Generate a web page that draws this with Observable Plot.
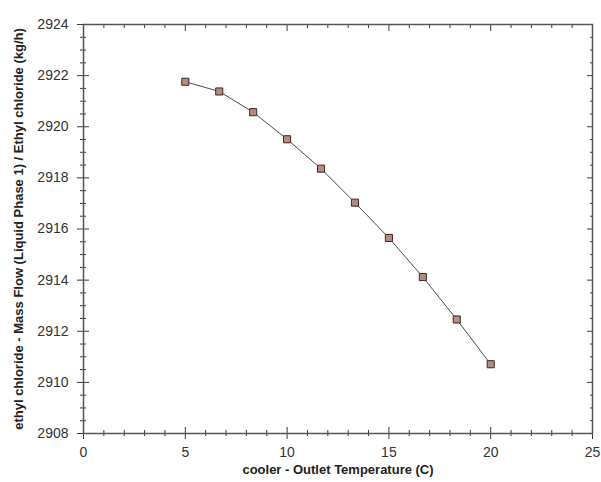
<!DOCTYPE html>
<html>
<head>
<meta charset="utf-8">
<script src="https://cdn.jsdelivr.net/npm/d3@7"></script>
<script src="https://cdn.jsdelivr.net/npm/@observablehq/plot@0.6"></script>
<style>
  html, body { margin: 0; padding: 0; background: #fff; }
  #chart svg { display: block; }
</style>
</head>
<body>
<div id="chart"></div>
<script>
const temperatures = [5, 6.667, 8.333, 10, 11.667, 13.333, 15, 16.667, 18.333, 20];
const massFlow = [2921.76, 2921.38, 2920.57, 2919.51, 2918.36, 2917.03, 2915.65, 2914.12, 2912.46, 2910.71];
const xMajorTicks = [0, 5, 10, 15, 20, 25];
const xMinorTicks = d3.range(0, 25, 1).filter(v => v % 5 !== 0);
const yMajorTicks = [2908, 2910, 2912, 2914, 2916, 2918, 2920, 2922, 2924];
const yMinorTicks = d3.range(2908, 2924, 0.5).filter(v => v % 2 !== 0);
const xLabel = "cooler - Outlet Temperature (C)";
const yLabel = "ethyl chloride - Mass Flow (Liquid Phase 1) / Ethyl chloride (kg/h)";

const data = temperatures.map((t, i) => ({t, m: massFlow[i]}));
const axisColor = "#3a3a3a";

const chart = Plot.plot({
  width: 601,
  height: 482,
  marginLeft: 83,
  marginRight: 9,
  marginTop: 24,
  marginBottom: 49,
  style: {fontFamily: "'Liberation Sans', Arial, sans-serif", fontSize: "14px", color: "#333", background: "#fff"},
  x: {domain: [0, 25]},
  y: {domain: [2908, 2924]},
  marks: [
    // bottom axis: major crossing ticks + labels
    Plot.axisX({anchor: "bottom", ticks: xMajorTicks, tickSize: 6, tickPadding: 8, fontSize: 14, stroke: axisColor, fill: "#333", label: xLabel, labelAnchor: "center", labelArrow: "none", labelOffset: 40}),
    Plot.axisX({anchor: "bottom", ticks: xMajorTicks, tickSize: 6, dy: -6, text: null, label: null, stroke: axisColor}),
    Plot.axisX({anchor: "bottom", ticks: xMinorTicks, tickSize: 3, text: null, label: null, stroke: axisColor}),
    Plot.axisX({anchor: "bottom", ticks: xMinorTicks, tickSize: 3, dy: -3, text: null, label: null, stroke: axisColor}),
    // top axis: inward ticks
    Plot.axisX({anchor: "top", ticks: xMajorTicks, tickSize: 6, dy: 6, text: null, label: null, stroke: axisColor}),
    Plot.axisX({anchor: "top", ticks: xMinorTicks, tickSize: 3, dy: 3, text: null, label: null, stroke: axisColor}),
    // left axis
    Plot.axisY({anchor: "left", ticks: yMajorTicks, tickSize: 6, tickPadding: 9, fontSize: 14, tickFormat: d => String(d), stroke: axisColor, fill: "#333", label: yLabel, labelAnchor: "center", labelArrow: "none", labelOffset: 70}),
    Plot.axisY({anchor: "left", ticks: yMajorTicks, tickSize: 6, dx: 6, text: null, label: null, stroke: axisColor}),
    Plot.axisY({anchor: "left", ticks: yMinorTicks, tickSize: 3, text: null, label: null, stroke: axisColor}),
    Plot.axisY({anchor: "left", ticks: yMinorTicks, tickSize: 3, dx: 3, text: null, label: null, stroke: axisColor}),
    // right axis: inward ticks
    Plot.axisY({anchor: "right", ticks: yMajorTicks, tickSize: 6, dx: -6, text: null, label: null, stroke: axisColor}),
    Plot.axisY({anchor: "right", ticks: yMinorTicks, tickSize: 3, dx: -3, text: null, label: null, stroke: axisColor}),
    Plot.frame({stroke: "#555", strokeWidth: 1.5}),
    Plot.line(data, {x: "t", y: "m", stroke: "#4a4a4a", strokeWidth: 1}),
    Plot.dot(data, {x: "t", y: "m", symbol: "square", r: 4, fill: "#b58a7f", stroke: "#3b2a26", strokeWidth: 1})
  ]
});

document.getElementById("chart").appendChild(chart);
// bold axis labels
chart.querySelectorAll("[aria-label='x-axis label'] text, [aria-label='y-axis label'] text").forEach(t => {
  t.setAttribute("font-weight", "bold");
  t.setAttribute("font-size", "13px");
  t.setAttribute("fill", "#222");
});
</script>
</body>
</html>
